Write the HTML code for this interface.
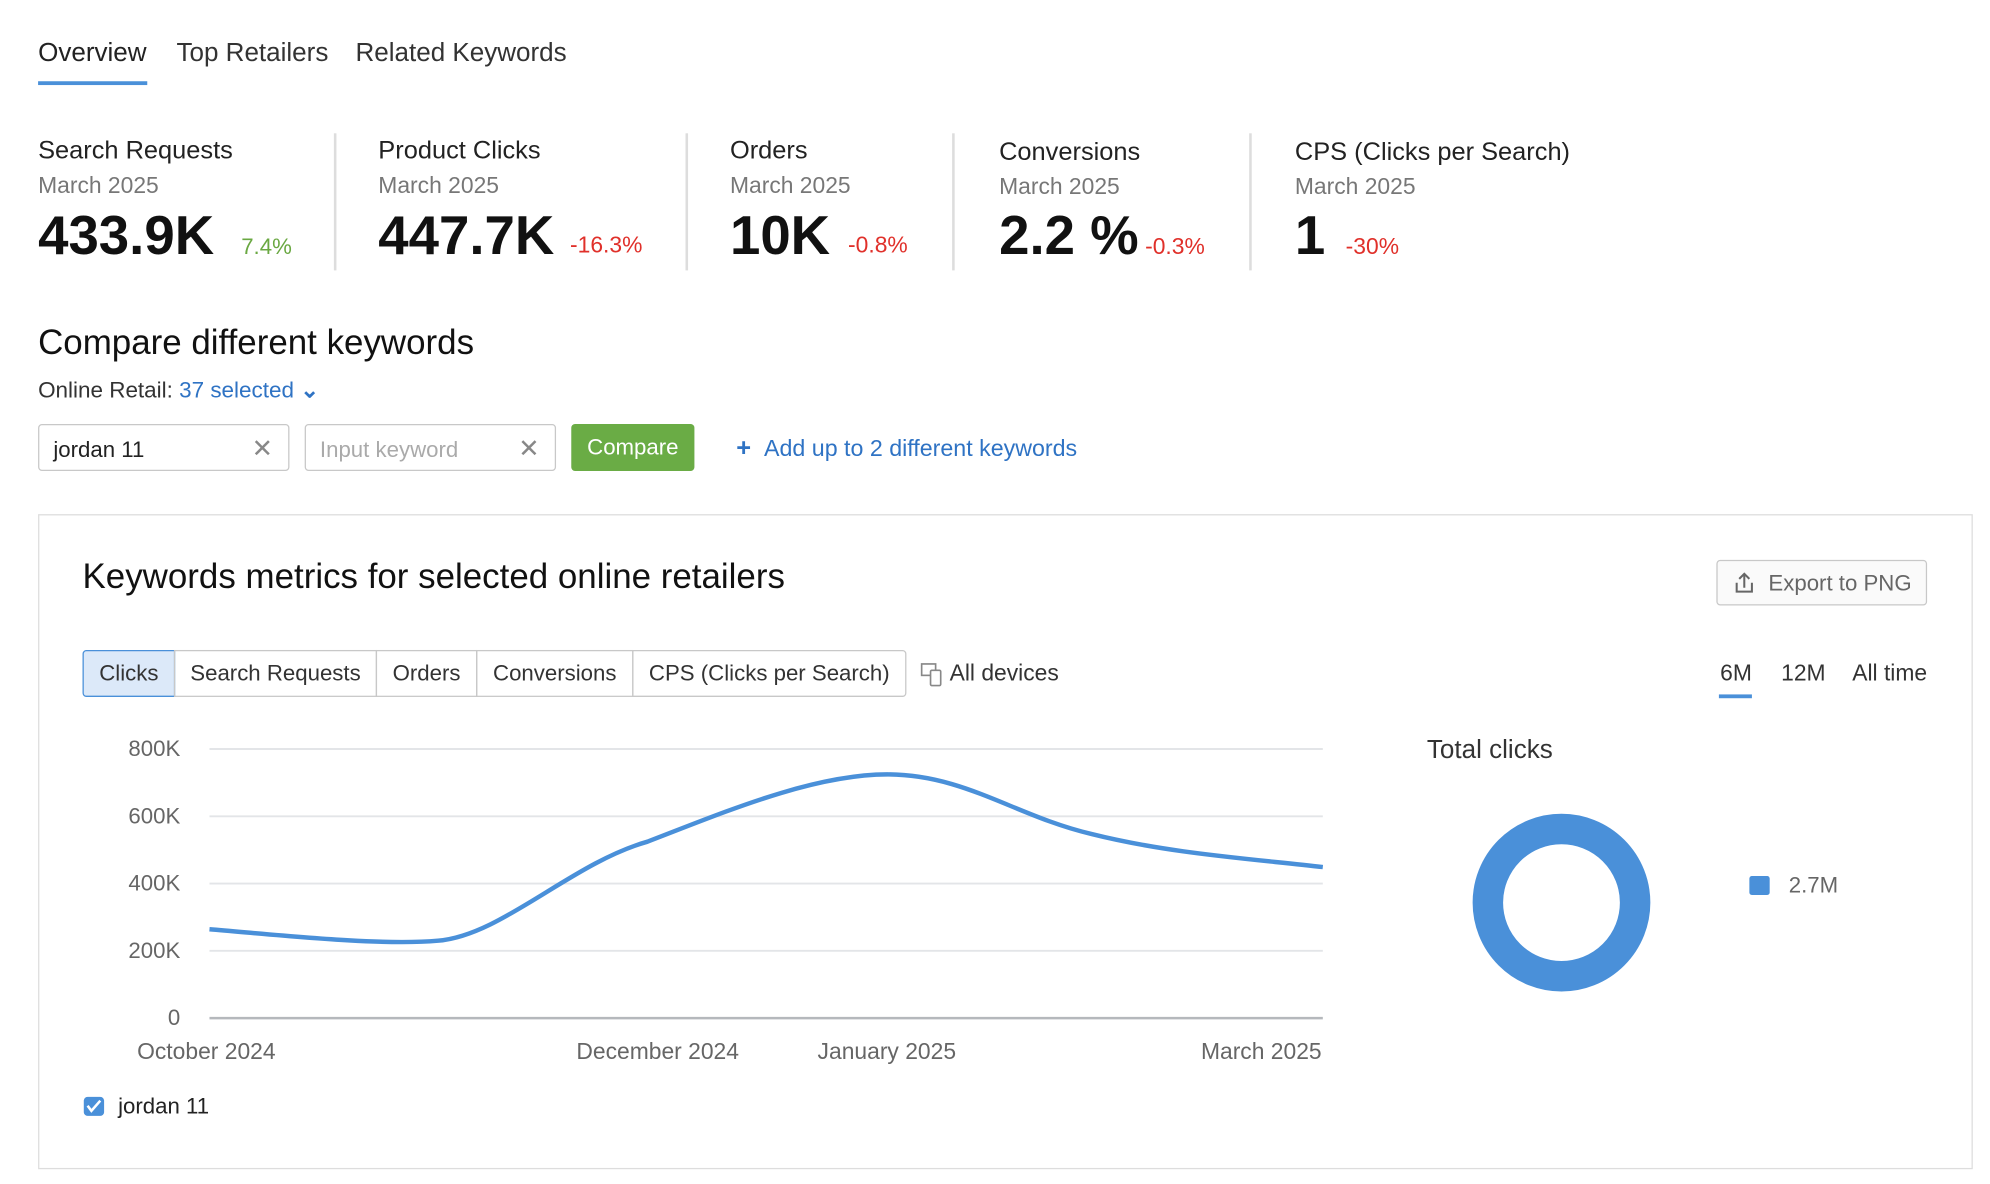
<!DOCTYPE html>
<html><head><meta charset="utf-8"><style>
*{margin:0;padding:0;box-sizing:border-box}
body{width:1990px;height:1184px;background:#fff;overflow:hidden;font-family:"Liberation Sans",sans-serif;color:#222}
#w{position:absolute;left:0;top:0;width:1560px;height:928px;transform:scale(1.2695);transform-origin:0 0}
.a{position:absolute;white-space:nowrap}
.t{font-size:20.5px;color:#333;transform:translateY(-50%)}
.m{font-size:20px;color:#222}
.d{font-size:18px;color:#777}
.n{font-size:43px;font-weight:bold;color:#111}
.g{font-size:17.5px;color:#6aa842}
.r{font-size:18px;color:#e0302a}
.sep{position:absolute;width:2px;background:#ddd;top:105px;height:108px}
.seg{position:absolute;top:512px;height:37px;border:1px solid #c8c8c8;font-size:17.5px;color:#333;display:flex;align-items:center;justify-content:center}
.yl{position:absolute;right:1418px;font-size:17.5px;color:#666;transform:translateY(-50%)}
.xl{position:absolute;top:818px;font-size:18px;color:#666}
</style></head><body><div id="w">
<div class="a t" style="left:30px;top:42px;color:#222">Overview</div>
<div class="a t" style="left:139px;top:42px">Top Retailers</div>
<div class="a t" style="left:280px;top:42px">Related Keywords</div>
<div class="a" style="left:30px;top:64px;width:86px;height:3px;background:#4a90d9"></div>

<div class="sep" style="left:263px"></div><div class="sep" style="left:540px"></div><div class="sep" style="left:750px"></div><div class="sep" style="left:984px"></div>

<div class="a m" style="left:30px;top:108px">Search Requests</div>
<div class="a d" style="left:30px;top:136px">March 2025</div>
<div class="a n" style="left:30px;top:162px">433.9K</div>
<div class="a g" style="left:190px;top:184px">7.4%</div>

<div class="a m" style="left:298px;top:108px">Product Clicks</div>
<div class="a d" style="left:298px;top:136px">March 2025</div>
<div class="a n" style="left:298px;top:162px">447.7K</div>
<div class="a r" style="left:449px;top:183px">-16.3%</div>

<div class="a m" style="left:575px;top:108px">Orders</div>
<div class="a d" style="left:575px;top:136px">March 2025</div>
<div class="a n" style="left:575px;top:162px">10K</div>
<div class="a r" style="left:668px;top:183px">-0.8%</div>

<div class="a m" style="left:787px;top:109px">Conversions</div>
<div class="a d" style="left:787px;top:137px">March 2025</div>
<div class="a n" style="left:787px;top:162px">2.2 %</div>
<div class="a r" style="left:902px;top:184px">-0.3%</div>

<div class="a m" style="left:1020px;top:109px">CPS (Clicks per Search)</div>
<div class="a d" style="left:1020px;top:137px">March 2025</div>
<div class="a n" style="left:1020px;top:162px">1</div>
<div class="a r" style="left:1060px;top:184px">-30%</div>

<div class="a" style="left:30px;top:254px;font-size:27.5px;color:#111">Compare different keywords</div>
<div class="a" style="left:30px;top:297px;font-size:17.7px;color:#333">Online Retail: <span style="color:#2f73c4">37 selected</span> <span style="color:#2f73c4;font-weight:bold">&#8964;</span></div>

<div class="a" style="left:30px;top:334px;width:198px;height:37px;border:1px solid #c8c8c8;border-radius:3px;font-size:17.5px;padding:9px 11px;color:#222">jordan 11<span style="position:absolute;right:12px;top:6px;color:#888;font-size:20px">&#x2715;</span></div>
<div class="a" style="left:240px;top:334px;width:198px;height:37px;border:1px solid #c8c8c8;border-radius:3px;font-size:17.5px;padding:9px 11px;color:#aaa">Input keyword<span style="position:absolute;right:12px;top:6px;color:#888;font-size:20px">&#x2715;</span></div>
<div class="a" style="left:450px;top:334px;width:97px;height:37px;background:#6aac45;border-radius:3px;color:#fff;font-size:17.5px;text-align:center;line-height:37px">Compare</div>
<div class="a" style="left:580px;top:342px;font-size:18.3px;color:#2f73c4"><b style="font-size:20px;line-height:17px">+</b>&nbsp;&nbsp;Add up to 2 different keywords</div>

<div class="a" style="left:30px;top:405px;width:1524px;height:516px;border:1px solid #ddd"></div>
<div class="a" style="left:65px;top:438px;font-size:27.5px;color:#111">Keywords metrics for selected online retailers</div>
<div class="a" style="left:1352px;top:441px;width:166px;height:36px;border:1px solid #c8c8c8;border-radius:3px;background:#fafafa;font-size:17.5px;color:#666;line-height:34px;padding-left:40px">Export to PNG
<svg style="position:absolute;left:12px;top:8px" width="18" height="18" viewBox="0 0 18 18"><path d="M9 13V2M5 6l4-4 4 4M3 9v7h12V9" fill="none" stroke="#666" stroke-width="1.6"/></svg></div>

<div class="seg" style="left:65px;width:73px;background:#dce9f9;border-color:#4a90d9;border-radius:3px 0 0 3px">Clicks</div>
<div class="seg" style="left:137px;width:160px">Search Requests</div>
<div class="seg" style="left:296px;width:80px">Orders</div>
<div class="seg" style="left:375px;width:124px">Conversions</div>
<div class="seg" style="left:498px;width:216px;border-radius:0 3px 3px 0">CPS (Clicks per Search)</div>
<svg class="a" style="left:725px;top:521px" width="18" height="20" viewBox="0 0 18 20"><rect x="1" y="2" width="11" height="9" fill="none" stroke="#888" stroke-width="1.3"/><rect x="8" y="7" width="8" height="12" rx="1" fill="#fff" stroke="#888" stroke-width="1.3"/></svg>
<div class="a" style="left:748px;top:520px;font-size:18px;color:#333">All devices</div>
<div class="a" style="left:1355px;top:520px;font-size:18px;color:#333">6M</div>
<div class="a" style="left:1354px;top:547px;width:26px;height:3px;background:#4a90d9"></div>
<div class="a" style="left:1403px;top:520px;font-size:18px;color:#333">12M</div>
<div class="a" style="left:1459px;top:520px;font-size:18px;color:#333">All time</div>

<div class="yl" style="top:590px">800K</div><div class="yl" style="top:643px">600K</div><div class="yl" style="top:696px">400K</div><div class="yl" style="top:749px">200K</div><div class="yl" style="top:802px">0</div>
<svg class="a" style="left:0;top:0" width="1560" height="928">
<g stroke="#e3e5e8" stroke-width="1.5"><line x1="165" y1="590" x2="1042" y2="590"/><line x1="165" y1="643" x2="1042" y2="643"/><line x1="165" y1="696" x2="1042" y2="696"/><line x1="165" y1="749" x2="1042" y2="749"/></g>
<line x1="165" y1="802" x2="1042" y2="802" stroke="#b5b8bc" stroke-width="2"/>
<path d="M165,732 C225,737 300,745 345,741 C395,737 450,680 510,663 C570,640 640,610 699,610 C760,610 800,643 860,657 C920,672 980,676 1042,683" fill="none" stroke="#4a90d9" stroke-width="3.5"/>
<circle cx="1230" cy="711" r="58" fill="none" stroke="#4a90d9" stroke-width="24"/>
<rect x="1378" y="690" width="16" height="15" rx="2" fill="#4a90d9"/>
<rect x="66" y="864" width="16" height="15" rx="3" fill="#4a90d9"/>
<path d="M69,871 l3,4 l7,-8" fill="none" stroke="#fff" stroke-width="2"/>
</svg>
<div class="xl" style="left:108px">October 2024</div>
<div class="xl" style="left:454px">December 2024</div>
<div class="xl" style="left:644px">January 2025</div>
<div class="xl" style="left:946px">March 2025</div>
<div class="a" style="left:1124px;top:579px;font-size:20.5px;color:#333">Total clicks</div>
<div class="a" style="left:1409px;top:687px;font-size:17.5px;color:#666">2.7M</div>
<div class="a" style="left:93px;top:861px;font-size:17.5px;color:#222">jordan 11</div>
</div></body></html>
